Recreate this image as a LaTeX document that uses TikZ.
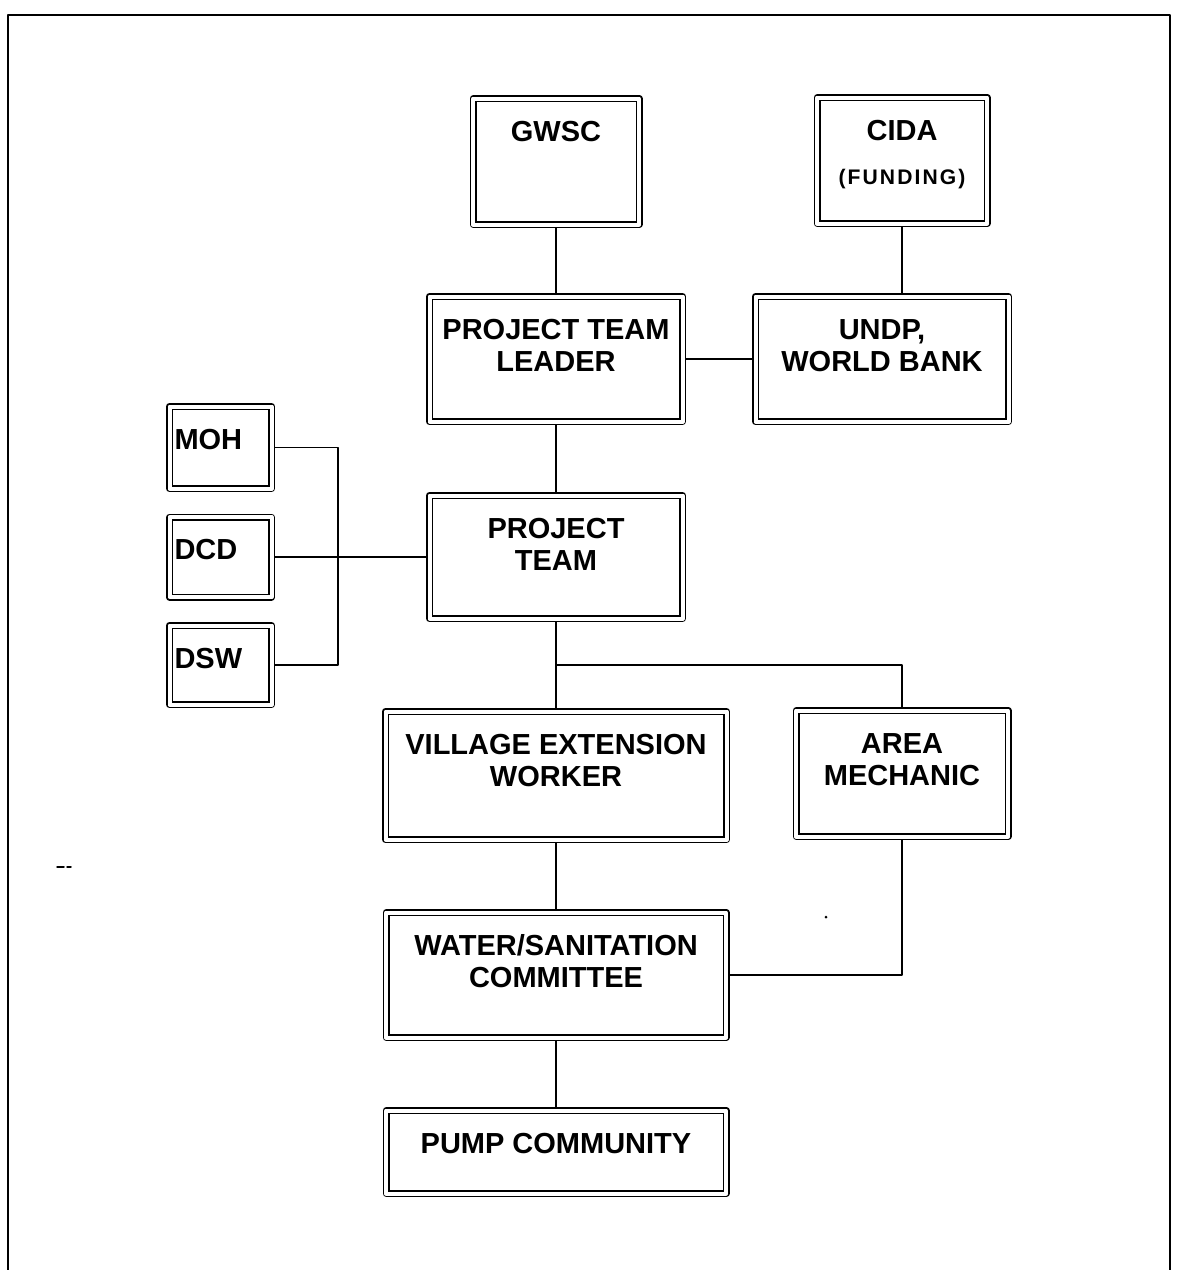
\documentclass[tikz,border=0pt]{standalone}
\usepackage{fontspec}
\setmainfont{Liberation Sans}
\tikzset{
	dbox/.style n args={3}{draw, double, double distance=0.08cm, line width=0.03cm,
		outer sep=0.07cm, inner xsep=2pt, inner ysep=0pt, align=center,
		minimum width=#1cm, text height=#2cm, text depth=#3cm,
		font=\bfseries\fontsize{16.5}{18.6}\selectfont},
	lbox/.style={dbox={2.04}{0.85}{#1}, align=left, text width=1.84cm, inner xsep=0.1cm},
	link/.style={line width=0.03cm}
}
\begin{document}
\begin{tikzpicture}[x=0.2mm, y=-0.2mm, line join=round, line cap=round]
	\useasboundingbox (0,0) rectangle (1178,1270);
	\def\mid{556} %main column
	\def\rgt{902} %right column
	% frame
	\draw[line width=0.04cm] (8,1270) -- (8,15) -- (1170,15) -- (1170,1270);
	% boxes
	\node[dbox={3.32}{0.85}{1.67}] (gwsc) at (\mid,161.5) {GWSC};
	\node[dbox={3.4}{1.73}{0.79}] (cida) at (\rgt,160.5) {CIDA\\[6pt]{\fontsize{12}{14}\selectfont\addfontfeature{LetterSpace=10}(FUNDING)}};
	\node[dbox={5.06}{1.504}{0.996}] (ptl) at (\mid,359) {PROJECT TEAM\\LEADER};
	\node[dbox={5.06}{1.504}{0.996}] (undp) at (882,359) {UNDP,\\WORLD BANK};
	\node[lbox=0.79] (moh) at (220.5,447.5) {MOH};
	\node[lbox=0.75] (dcd) at (220.5,557) {DCD};
	\node[lbox=0.73] (dsw) at (220.5,665) {DSW};
	\node[dbox={5.06}{1.504}{0.956}] (pt) at (\mid,557) {PROJECT\\TEAM};
	\node[dbox={6.82}{1.504}{1.056}] (vew) at (\mid,775.5) {VILLAGE EXTENSION\\WORKER};
	\node[dbox={4.24}{1.504}{1.016}] (am) at (\rgt,773.5) {AREA\\MECHANIC};
	\node[dbox={6.8}{1.504}{0.996}] (wsc) at (\mid,975) {WATER/SANITATION\\COMMITTEE};
	\node[dbox={6.8}{0.85}{0.81}] (pc) at (\mid,1152) {PUMP COMMUNITY};
	% links
	\coordinate (bus) at (338,557);
	\coordinate (split) at (\mid,665);
	\draw[link] (gwsc) -- (ptl);
	\draw[link] (cida.south) -- (cida.south |- undp.north);
	\draw[link] (ptl) -- (undp);
	\draw[link] (ptl) -- (pt);
	\draw[link] (moh.east) -| (bus) |- (dsw.east);
	\draw[link] (dcd) -- (pt);
	\draw[link] (pt) -- (vew);
	\draw[link] (split) -| (am.north);
	\draw[link] (vew) -- (wsc);
	\draw[link] (am.south) |- (wsc.east);
	\draw[link] (wsc) -- (pc);
	% specks
	\fill (826,917) circle (0.3mm);
	\draw[link] (57,867) -- (64,867) (67,867) -- (71,867);
\end{tikzpicture}
\end{document}
